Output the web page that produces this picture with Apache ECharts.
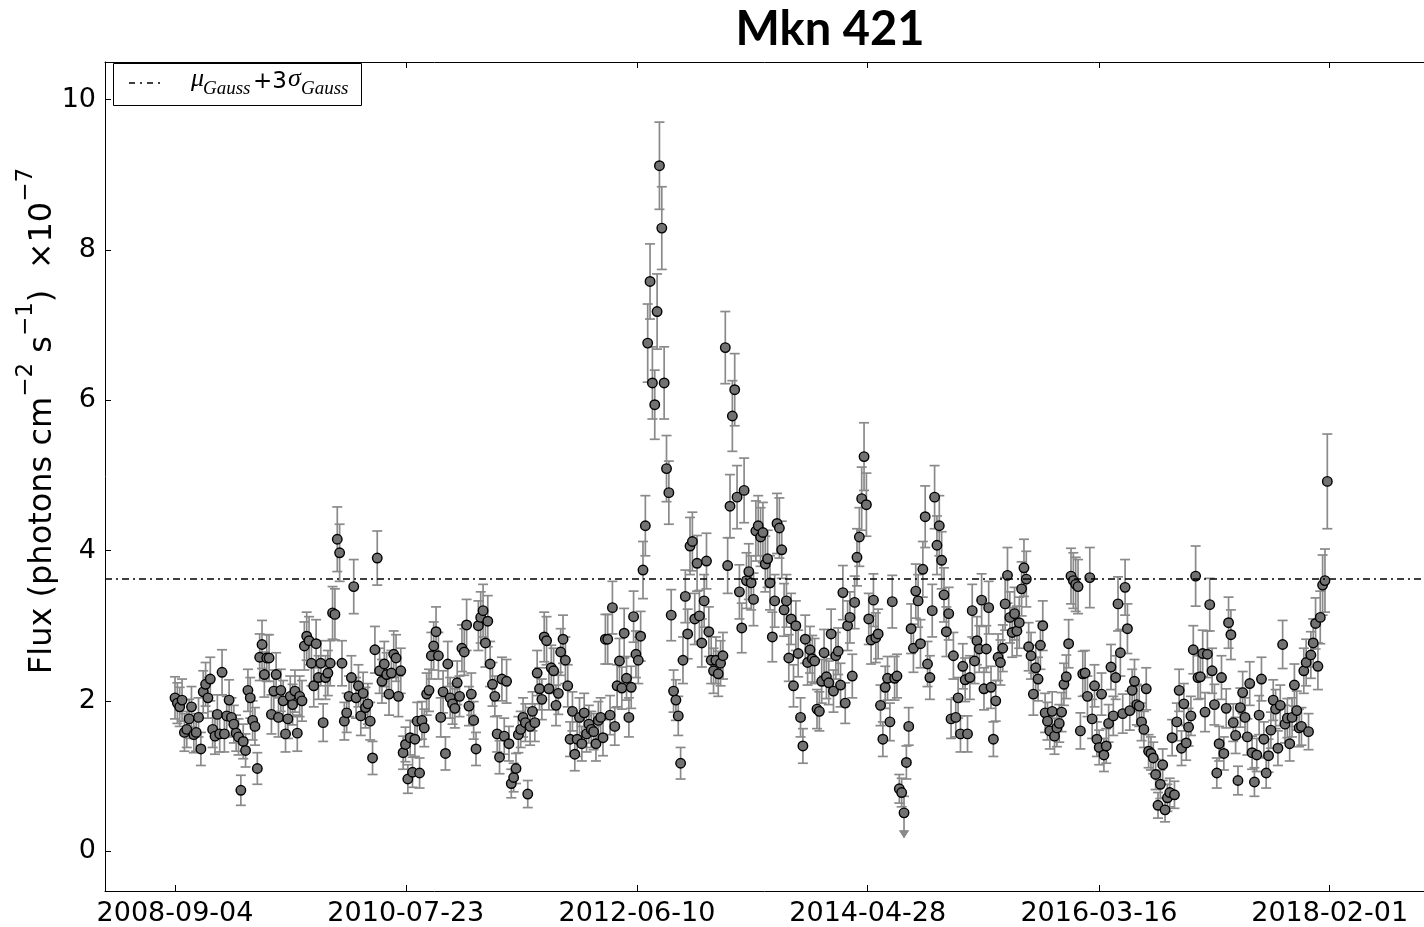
<!DOCTYPE html>
<html>
<head>
<meta charset="utf-8">
<script src="https://cdn.jsdelivr.net/npm/echarts@6/dist/echarts.min.js"></script>
<style>
html, body { margin: 0; padding: 0; background: #fff; }
#chart { width: 1424px; height: 927px; }
</style>
</head>
<body>
<div id="chart"></div>
<script>
// Mkn 421 weekly light curve, first bin starting 2008-09-04
const startDate = '2008-09-04';
const binDays = 7;

// weekly flux, 1e-7 photons cm^-2 s^-1
const flux = [
  2.04, 1.97, 1.92, 2.01, 1.58, 1.62, 1.76, 1.92, 1.55, 1.58,
  1.78, 1.36, 2.12, 2.22, 2.04, 2.29, 1.62, 1.53, 1.82, 1.56,
  2.38, 1.56, 1.80, 2.01, 1.78, 1.69, 1.57, 1.52, 0.81, 1.46,
  1.34, 2.14, 2.04, 1.74, 1.66, 1.10, 2.58, 2.75, 2.35, 2.57,
  2.57, 1.82, 2.13, 2.35, 1.78, 2.14, 2.00, 1.56, 1.76, 2.06,
  1.95, 2.13, 1.57, 2.06, 2.00, 2.73, 2.86, 2.80, 2.50, 2.20,
  2.76, 2.31, 2.50, 1.71, 2.31, 2.37, 2.50, 3.17, 3.15, 4.15,
  3.97, 2.50, 1.73, 1.84, 2.06, 2.31, 3.52, 2.04, 2.20, 1.80,
  2.10, 1.91, 1.96, 1.73, 1.24, 2.68, 3.90, 2.40, 2.26, 2.49,
  2.35, 2.09, 2.37, 2.62, 2.57, 2.06, 2.40, 1.31, 1.42, 0.96,
  1.51, 1.05, 1.49, 1.73, 1.04, 1.74, 1.64, 2.09, 2.14, 2.60,
  2.73, 2.92, 2.60, 1.78, 2.12, 1.30, 2.49, 2.04, 1.96, 1.90,
  2.24, 2.06, 2.70, 2.65, 3.01, 1.93, 2.09, 1.74, 1.36, 3.00,
  3.11, 3.20, 2.77, 3.06, 2.49, 2.22, 2.06, 1.56, 1.25, 2.29,
  1.53, 2.26, 1.43, 0.90, 0.98, 1.10, 1.55, 1.62, 1.78, 1.71,
  0.76, 1.66, 1.86, 1.71, 2.37, 2.16, 2.02, 2.85, 2.80, 2.16,
  2.44, 2.40, 1.94, 2.10, 2.65, 2.82, 2.54, 2.20, 1.49, 1.86,
  1.29, 1.49, 1.78, 1.43, 1.84, 1.56, 1.69, 1.62, 1.59, 1.43,
  1.74, 1.78, 1.51, 2.82, 2.82, 1.81, 3.24, 1.66, 2.20, 2.53,
  2.17, 2.90, 2.30, 1.78, 2.18, 3.12, 2.62, 2.54, 2.86, 3.74,
  4.33, 6.76, 7.58, 6.23, 5.94, 7.18, 9.12, 8.29, 6.23, 5.09,
  4.77, 3.14, 2.13, 2.01, 1.80, 1.17, 2.54, 3.39, 2.89, 4.06,
  4.12, 3.09, 3.83, 3.13, 2.77, 3.33, 3.86, 2.92, 2.54, 2.40,
  2.54, 2.36, 2.50, 2.60, 6.70, 3.80, 4.59, 5.79, 6.14, 4.71,
  3.45, 2.97, 4.80, 3.60, 3.72, 3.57, 3.35, 4.26, 4.33, 4.18,
  4.24, 3.82, 3.89, 3.57, 2.85, 3.33, 4.36, 4.30, 4.01, 3.21,
  3.33, 2.57, 3.09, 2.20, 3.00, 2.63, 1.78, 1.40, 2.82, 2.51,
  2.68, 2.56, 2.53, 1.89, 1.86, 2.26, 2.64, 2.32, 2.24, 2.89,
  2.13, 2.60, 2.66, 2.21, 3.44, 1.97, 3.00, 3.11, 2.33, 3.31,
  3.91, 4.18, 4.69, 5.25, 4.61, 3.09, 2.81, 3.34, 2.84, 2.89,
  1.94, 1.49, 2.18, 2.30, 1.72, 3.32, 2.30, 2.33, 0.83, 0.78,
  0.51, 1.18, 1.66, 2.96, 2.70, 3.46, 3.33, 2.76, 3.75, 4.45,
  2.49, 2.31, 3.20, 4.71, 4.07, 4.33, 3.87, 3.41, 2.92, 3.16,
  1.76, 2.60, 1.78, 2.04, 1.56, 2.46, 2.28, 1.56, 2.31, 3.20,
  2.53, 2.80, 2.69, 3.34, 2.16, 2.69, 3.24, 2.18, 1.49, 2.00,
  2.58, 2.51, 2.70, 3.29, 3.67, 3.11, 2.91, 3.16, 2.93, 3.04,
  3.49, 3.77, 3.62, 2.72, 2.60, 2.09, 2.44, 2.29, 2.74, 3.00,
  1.84, 1.73, 1.60, 1.86, 1.53, 1.64, 1.70, 1.85, 2.22, 2.32,
  2.76, 3.66, 3.60, 3.55, 3.52, 1.60, 2.36, 2.37, 2.06, 3.64,
  1.76, 2.20, 1.49, 1.38, 2.09, 1.28, 1.40, 1.70, 2.45, 1.80,
  2.31, 3.29, 2.64, 1.83, 3.51, 2.96, 1.87, 2.14, 2.26, 1.95,
  1.93, 1.72, 1.62, 2.16, 1.33, 1.30, 1.24, 1.02, 0.61, 0.89,
  1.15, 0.55, 0.71, 0.78, 1.51, 0.75, 1.72, 2.14, 1.37, 1.96,
  1.44, 1.65, 1.80, 2.68, 3.66, 2.31, 2.32, 2.63, 1.85, 2.62,
  3.28, 2.40, 1.95, 1.04, 1.43, 2.31, 1.30, 1.90, 3.04, 2.88,
  1.71, 1.54, 0.94, 1.91, 2.11, 1.78, 1.52, 2.23, 1.31, 0.92,
  1.28, 1.81, 2.29, 1.49, 1.04, 1.27, 1.61, 2.01, 1.89, 1.37,
  1.94, 2.75, 1.69, 1.77, 1.43, 1.78, 2.21, 1.87, 1.64, 1.66,
  2.40, 2.51, 1.59, 2.61, 2.77, 3.03, 2.46, 3.11, 3.54, 3.60,
  4.92
];

// 1-sigma flux uncertainty per bin
const fluxErr = [
  0.28, 0.27, 0.26, 0.28, 0.25, 0.24, 0.26, 0.27, 0.24, 0.25,
  0.26, 0.22, 0.28, 0.29, 0.27, 0.29, 0.24, 0.24, 0.26, 0.24,
  0.30, 0.24, 0.26, 0.27, 0.26, 0.25, 0.24, 0.24, 0.20, 0.23,
  0.22, 0.28, 0.27, 0.26, 0.25, 0.21, 0.31, 0.32, 0.30, 0.31,
  0.31, 0.26, 0.28, 0.29, 0.26, 0.28, 0.27, 0.24, 0.26, 0.27,
  0.27, 0.28, 0.24, 0.27, 0.27, 0.32, 0.32, 0.32, 0.30, 0.28,
  0.32, 0.29, 0.30, 0.25, 0.29, 0.30, 0.30, 0.35, 0.34, 0.43,
  0.38, 0.30, 0.25, 0.26, 0.27, 0.29, 0.36, 0.27, 0.28, 0.26,
  0.28, 0.27, 0.27, 0.25, 0.22, 0.31, 0.36, 0.30, 0.29, 0.30,
  0.29, 0.28, 0.30, 0.31, 0.31, 0.27, 0.30, 0.22, 0.23, 0.19,
  0.23, 0.20, 0.23, 0.25, 0.20, 0.25, 0.25, 0.28, 0.28, 0.31,
  0.32, 0.33, 0.31, 0.26, 0.28, 0.22, 0.30, 0.27, 0.27, 0.26,
  0.29, 0.27, 0.31, 0.31, 0.34, 0.26, 0.28, 0.25, 0.22, 0.33,
  0.34, 0.35, 0.32, 0.34, 0.30, 0.29, 0.27, 0.24, 0.22, 0.29,
  0.24, 0.29, 0.23, 0.19, 0.19, 0.20, 0.24, 0.24, 0.26, 0.25,
  0.18, 0.25, 0.26, 0.25, 0.30, 0.28, 0.27, 0.33, 0.32, 0.28,
  0.30, 0.30, 0.27, 0.28, 0.31, 0.32, 0.31, 0.28, 0.23, 0.26,
  0.22, 0.23, 0.26, 0.23, 0.26, 0.24, 0.25, 0.24, 0.24, 0.23,
  0.25, 0.26, 0.24, 0.33, 0.33, 0.26, 0.35, 0.25, 0.28, 0.30,
  0.28, 0.33, 0.29, 0.26, 0.28, 0.34, 0.31, 0.31, 0.33, 0.38,
  0.40, 0.52, 0.50, 0.48, 0.46, 0.50, 0.58, 0.55, 0.48, 0.44,
  0.42, 0.34, 0.28, 0.27, 0.26, 0.21, 0.31, 0.35, 0.33, 0.38,
  0.39, 0.34, 0.37, 0.34, 0.32, 0.35, 0.37, 0.33, 0.31, 0.30,
  0.31, 0.30, 0.30, 0.31, 0.48, 0.37, 0.42, 0.47, 0.48, 0.42,
  0.36, 0.33, 0.43, 0.37, 0.37, 0.36, 0.35, 0.40, 0.40, 0.39,
  0.40, 0.37, 0.38, 0.36, 0.33, 0.35, 0.40, 0.40, 0.38, 0.35,
  0.35, 0.31, 0.34, 0.28, 0.33, 0.31, 0.26, 0.23, 0.32, 0.30,
  0.31, 0.31, 0.30, 0.26, 0.26, 0.29, 0.31, 0.29, 0.29, 0.33,
  0.28, 0.31, 0.31, 0.29, 0.36, 0.27, 0.33, 0.34, 0.29, 0.35,
  0.38, 0.39, 0.42, 0.45, 0.42, 0.34, 0.32, 0.35, 0.33, 0.33,
  0.27, 0.23, 0.28, 0.29, 0.25, 0.35, 0.29, 0.29, 0.19, 0.19,
  0.22, 0.22, 0.25, 0.33, 0.32, 0.36, 0.35, 0.32, 0.37, 0.41,
  0.30, 0.29, 0.35, 0.42, 0.39, 0.40, 0.38, 0.36, 0.33, 0.35,
  0.26, 0.31, 0.26, 0.27, 0.24, 0.30, 0.29, 0.24, 0.29, 0.35,
  0.30, 0.32, 0.31, 0.35, 0.28, 0.31, 0.35, 0.28, 0.23, 0.27,
  0.31, 0.30, 0.31, 0.35, 0.37, 0.34, 0.33, 0.35, 0.33, 0.34,
  0.36, 0.38, 0.37, 0.32, 0.31, 0.28, 0.30, 0.29, 0.32, 0.33,
  0.26, 0.25, 0.24, 0.26, 0.24, 0.25, 0.25, 0.26, 0.28, 0.29,
  0.32, 0.37, 0.37, 0.36, 0.36, 0.24, 0.30, 0.30, 0.27, 0.40,
  0.26, 0.28, 0.23, 0.23, 0.28, 0.22, 0.23, 0.25, 0.30, 0.26,
  0.29, 0.36, 0.31, 0.26, 0.37, 0.33, 0.26, 0.28, 0.29, 0.27,
  0.27, 0.25, 0.24, 0.28, 0.22, 0.22, 0.21, 0.20, 0.17, 0.19,
  0.21, 0.16, 0.18, 0.19, 0.24, 0.18, 0.25, 0.28, 0.23, 0.27,
  0.23, 0.25, 0.26, 0.32, 0.40, 0.29, 0.29, 0.31, 0.26, 0.31,
  0.35, 0.30, 0.27, 0.20, 0.23, 0.29, 0.22, 0.26, 0.34, 0.33,
  0.25, 0.24, 0.19, 0.26, 0.28, 0.26, 0.24, 0.29, 0.22, 0.19,
  0.22, 0.26, 0.29, 0.23, 0.20, 0.22, 0.24, 0.27, 0.26, 0.23,
  0.27, 0.32, 0.25, 0.26, 0.23, 0.26, 0.28, 0.26, 0.25, 0.25,
  0.30, 0.31, 0.24, 0.31, 0.32, 0.34, 0.31, 0.35, 0.40, 0.42,
  0.63
];

// bins whose lower bar runs down to an arrow: [bin index, arrow tip flux]
const limitArrows = [[310, 0.18]];

// mu_Gauss + 3 sigma_Gauss level
const threshold = 3.62;

const xTickLabels = ['2008-09-04', '2010-07-23', '2012-06-10', '2014-04-28', '2016-03-16', '2018-02-01'];
const yTickValues = [0, 2, 4, 6, 8, 10];

const DAY = 86400000;
function toUTC(s) {
  const p = s.split('-').map(Number);
  return Date.UTC(p[0], p[1] - 1, p[2]);
}
const t0 = toUTC(startDate);
function dayOf(s) { return Math.round((toUTC(s) - t0) / DAY); }

const xTickDays = xTickLabels.map(dayOf);
const labelByDay = {};
xTickLabels.forEach((s, i) => { labelByDay[xTickDays[i]] = s; });

// x axis in days since the first bin; the frame runs on past the right edge
const gridLeft = 105, gridRight = 0;
const pxPerDay = 0.33595;
const xMin = -208.4;
const xMax = xMin + (1424 - gridRight - gridLeft) / pxPerDay;

const arrowTip = {};
limitArrows.forEach(a => { arrowTip[a[0]] = a[1]; });

const points = flux.map((f, i) => [i * binDays, f]);
const bars = flux.map((f, i) => {
  const lo = arrowTip[i] !== undefined ? arrowTip[i] : f - fluxErr[i];
  return [i * binDays, f, f + fluxErr[i], lo, arrowTip[i] !== undefined ? 1 : 0];
});

const errColor = '#8a8a8a';
const axisColor = '#000';
const tickFont = 'DejaVu Sans';

const chart = echarts.init(document.getElementById('chart'), null, { renderer: 'canvas' });

const baseX = {
  type: 'value',
  min: xMin,
  max: xMax,
  axisLine: { show: true, onZero: false, lineStyle: { color: axisColor, width: 1 } },
  axisTick: { show: true, inside: true, length: 6, customValues: xTickDays, lineStyle: { color: axisColor, width: 1 } },
  splitLine: { show: false }
};

chart.setOption({
  animation: false,
  backgroundColor: '#fff',
  grid: { left: gridLeft, right: gridRight, top: 62, bottom: 36, containLabel: false },
  xAxis: [
    Object.assign({}, baseX, {
      position: 'bottom',
      axisLabel: {
        show: true, customValues: xTickDays, margin: 9,
        color: '#000', fontFamily: tickFont, fontSize: 27,
        formatter: v => labelByDay[Math.round(v)] || ''
      }
    }),
    Object.assign({}, baseX, { position: 'top', axisLabel: { show: false } })
  ],
  yAxis: {
    type: 'value',
    min: -0.53,
    max: 10.5,
    axisLine: { show: true, onZero: false, lineStyle: { color: axisColor, width: 1 } },
    axisTick: { show: true, inside: true, length: 6, customValues: yTickValues, lineStyle: { color: axisColor, width: 1 } },
    axisLabel: {
      show: true, customValues: yTickValues, margin: 9,
      color: '#000', fontFamily: tickFont, fontSize: 27
    },
    splitLine: { show: false }
  },
  series: [
    {
      type: 'custom',
      name: 'errors',
      z: 2,
      silent: true,
      data: bars,
      encode: { x: 0, y: 1 },
      renderItem: (params, api) => {
        const x = api.value(0);
        const hi = api.coord([x, api.value(2)]);
        const lo = api.coord([x, api.value(3)]);
        const hasArrow = api.value(4) === 1;
        const cap = 5;
        const style = { stroke: errColor, lineWidth: 1.7 };
        const children = [
          { type: 'line', shape: { x1: hi[0], y1: hi[1], x2: lo[0], y2: lo[1] }, style },
          { type: 'line', shape: { x1: hi[0] - cap, y1: hi[1], x2: hi[0] + cap, y2: hi[1] }, style }
        ];
        if (hasArrow) {
          children.push({
            type: 'polygon',
            shape: { points: [[lo[0] - 4.5, lo[1] - 7], [lo[0] + 4.5, lo[1] - 7], [lo[0], lo[1]]] },
            style: { fill: errColor, stroke: errColor, lineWidth: 1 }
          });
        } else {
          children.push({ type: 'line', shape: { x1: lo[0] - cap, y1: lo[1], x2: lo[0] + cap, y2: lo[1] }, style });
        }
        return { type: 'group', children };
      }
    },
    {
      type: 'scatter',
      name: 'flux',
      z: 3,
      silent: true,
      data: points,
      symbol: 'circle',
      symbolSize: 9.5,
      itemStyle: { color: '#727272', borderColor: '#000', borderWidth: 1.4, opacity: 1 },
      markLine: {
        silent: true,
        symbol: ['none', 'none'],
        label: { show: false },
        lineStyle: { color: '#000', width: 1.5, type: [7, 4, 2, 4] },
        data: [{ yAxis: threshold }]
      }
    }
  ],
  graphic: [
    {
      type: 'text', x: 830, y: 30,
      style: { text: 'Mkn 421', fill: '#000', font: 'bold 47px Lato', align: 'center', verticalAlign: 'middle' }
    },
    {
      type: 'text', x: 37, y: 421, rotation: Math.PI / 2,
      style: {
        text: '{n|Flux (photons cm}{s|\u22122}{n| s}{s|\u22121}{n|)  \u00D710}{s|\u22127}',
        fill: '#000', align: 'center', verticalAlign: 'middle',
        rich: {
          n: { fontFamily: 'DejaVu Sans', fontSize: 32, lineHeight: 44, verticalAlign: 'bottom' },
          s: { fontFamily: 'DejaVu Sans', fontSize: 23, lineHeight: 27, verticalAlign: 'top' }
        }
      }
    },
    {
      type: 'rect', shape: { x: 113.5, y: 63.5, width: 248, height: 42 },
      style: { fill: '#fff', stroke: '#000', lineWidth: 1 }, z: 10
    },
    {
      type: 'line', shape: { x1: 129, y1: 83, x2: 161, y2: 83 },
      style: { stroke: '#000', lineWidth: 1.5, lineDash: [6, 5, 2, 5] }, z: 11
    },
    { type: 'text', x: 191, y: 92, z: 11,
      style: { text: '\u03BC', fill: '#000', font: 'italic 26px "Liberation Serif"', align: 'left', verticalAlign: 'bottom' } },
    { type: 'text', x: 203, y: 98, z: 11,
      style: { text: 'Gauss', fill: '#000', font: 'italic 19px "Liberation Serif"', align: 'left', verticalAlign: 'bottom' } },
    { type: 'text', x: 253, y: 94, z: 11,
      style: { text: '+3', fill: '#000', font: '23px "DejaVu Sans"', align: 'left', verticalAlign: 'bottom' } },
    { type: 'text', x: 288, y: 92, z: 11,
      style: { text: '\u03C3', fill: '#000', font: 'italic 26px "Liberation Serif"', align: 'left', verticalAlign: 'bottom' } },
    { type: 'text', x: 301, y: 98, z: 11,
      style: { text: 'Gauss', fill: '#000', font: 'italic 19px "Liberation Serif"', align: 'left', verticalAlign: 'bottom' } }
  ]
});
</script>
</body>
</html>
